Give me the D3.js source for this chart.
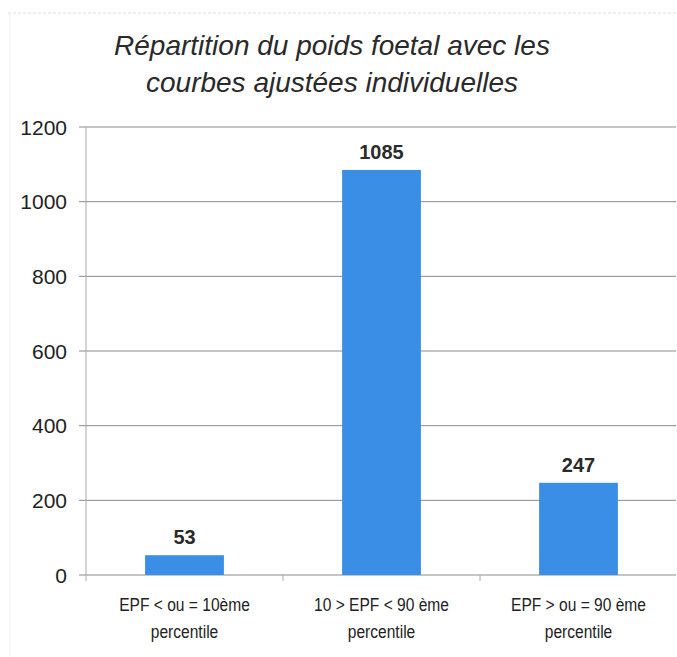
<!DOCTYPE html>
<html>
<head>
<meta charset="utf-8">
<script src="https://cdn.jsdelivr.net/npm/d3@7"></script>
<style>
  body { margin: 0; background: #fff; }
  svg { display: block; font-family: "Liberation Sans", Arial, sans-serif; }
</style>
</head>
<body>
<div id="chart"></div>
<script>
const categories = ["EPF < ou = 10ème|percentile", "10 > EPF < 90 ème|percentile", "EPF > ou = 90 ème|percentile"];
const values = [53, 1085, 247];
const yTicks = [0, 200, 400, 600, 800, 1000, 1200];
const titleLines = ["Répartition du poids foetal avec les", "courbes ajustées individuelles"];

const width = 677, height = 657;
const margin = { top: 127, right: 0, bottom: 82, left: 86 };

const svg = d3.select("#chart").append("svg")
    .attr("width", width)
    .attr("height", height);

// faint scan frame
svg.append("line").attr("x1", 8).attr("x2", 677).attr("y1", 13).attr("y2", 13)
    .attr("stroke", "#ddd").attr("stroke-dasharray", "3,2");
svg.append("line").attr("x1", 10).attr("x2", 10).attr("y1", 13).attr("y2", 657)
    .attr("stroke", "#eee");

const x = d3.scaleBand()
    .domain(categories)
    .range([margin.left, width - margin.right])
    .paddingInner(0.6)
    .paddingOuter(0.3);

const y = d3.scaleLinear()
    .domain([0, 1200])
    .range([height - margin.bottom, margin.top]);

// gridlines
svg.append("g")
    .selectAll("line")
    .data(yTicks)
    .join("line")
    .attr("x1", margin.left - 7)
    .attr("x2", width - 1)
    .attr("y1", d => y(d))
    .attr("y2", d => y(d))
    .attr("stroke", "#8a8a8a")
    .attr("stroke-width", 1);

// y axis line
svg.append("line")
    .attr("x1", margin.left).attr("x2", margin.left)
    .attr("y1", y(1200)).attr("y2", y(0) + 6)
    .attr("stroke", "#aaa");

// y tick labels
svg.append("g")
    .selectAll("text")
    .data(yTicks)
    .join("text")
    .attr("x", 67)
    .attr("y", d => y(d))
    .attr("dy", "0.36em")
    .attr("text-anchor", "end")
    .attr("font-size", 21)
    .attr("fill", "#222")
    .text(d => d);

// category separators
const bounds = categories.map(c => x(c) + x.bandwidth() + x.step() * x.paddingInner() / 2);
svg.append("g")
    .selectAll("line")
    .data(bounds.slice(0, 2))
    .join("line")
    .attr("x1", d => d).attr("x2", d => d)
    .attr("y1", y(0)).attr("y2", y(0) + 6)
    .attr("stroke", "#aaa");

// bars
svg.append("g")
    .selectAll("rect")
    .data(values)
    .join("rect")
    .attr("x", (d, i) => x(categories[i]))
    .attr("y", d => y(d))
    .attr("width", x.bandwidth())
    .attr("height", d => y(0) - y(d))
    .attr("fill", "#3a8ee6");

// value labels
svg.append("g")
    .selectAll("text")
    .data(values)
    .join("text")
    .attr("x", (d, i) => x(categories[i]) + x.bandwidth() / 2)
    .attr("y", d => y(d) - 11)
    .attr("text-anchor", "middle")
    .attr("font-size", 20)
    .attr("font-weight", "bold")
    .attr("fill", "#2a2a2a")
    .text(d => d);

// category labels (condensed look)
const catG = svg.append("g");
categories.forEach(c => {
    const cx = x(c) + x.bandwidth() / 2;
    c.split("|").forEach((line, j) => {
        catG.append("text")
            .attr("transform", `translate(${cx},${611 + j * 27}) scale(0.82,1)`)
            .attr("text-anchor", "middle")
            .attr("font-size", 19)
            .attr("fill", "#222")
            .text(line);
    });
});

// title
svg.append("g")
    .selectAll("text")
    .data(titleLines)
    .join("text")
    .attr("x", 332)
    .attr("y", (d, i) => 55 + i * 37)
    .attr("text-anchor", "middle")
    .attr("font-size", 28)
    .attr("font-style", "italic")
    .attr("fill", "#2a2a2a")
    .text(d => d);
</script>
</body>
</html>
